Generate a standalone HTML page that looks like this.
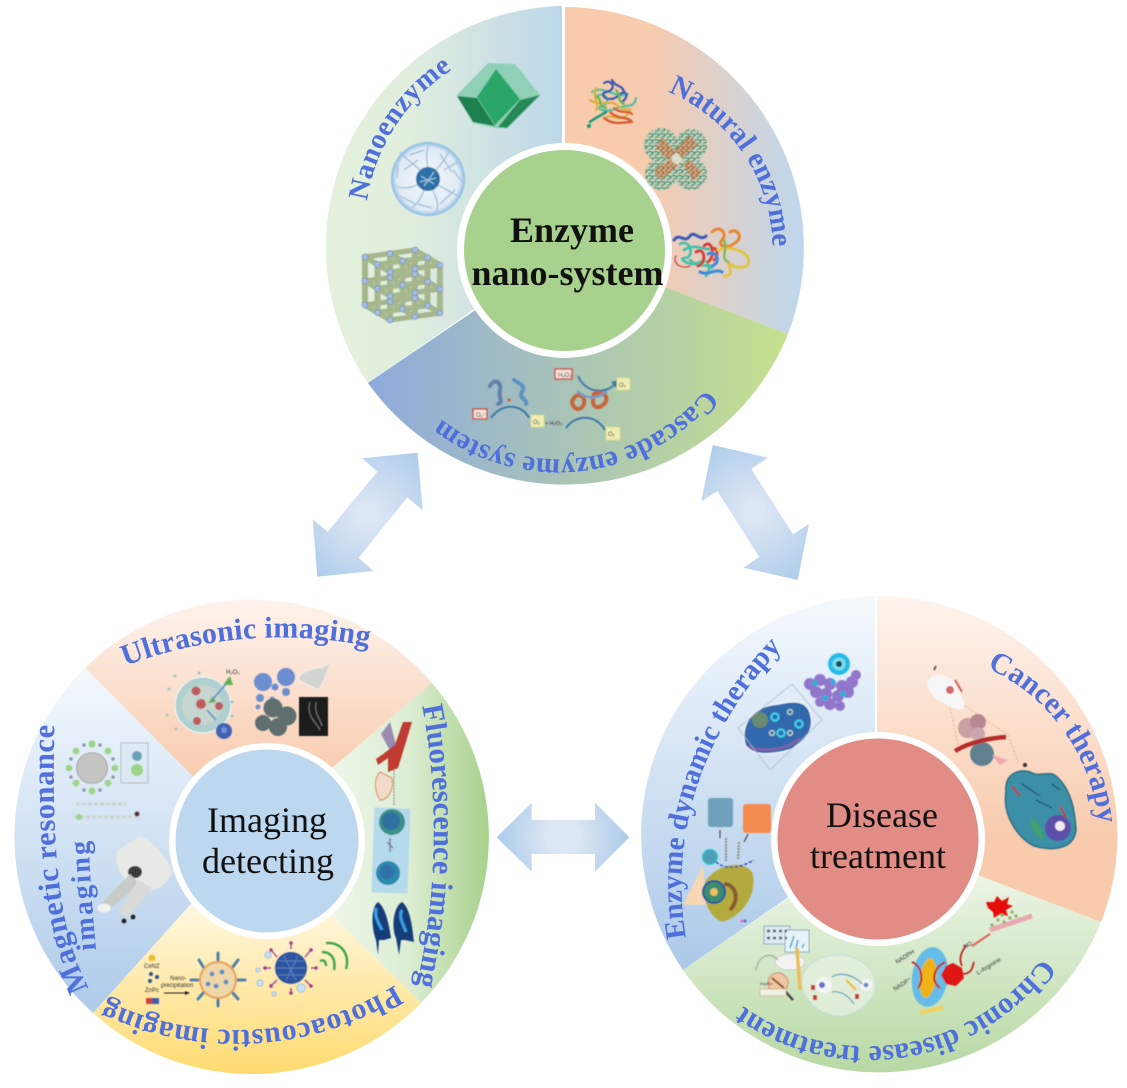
<!DOCTYPE html>
<html><head><meta charset="utf-8"><title>Enzyme nano-system</title>
<style>
html,body{margin:0;padding:0;background:#fff;width:1127px;height:1088px;overflow:hidden}
svg{display:block}
.l{font-family:"Liberation Serif",serif;font-weight:bold;fill:#4f70dc}
.c{font-family:"Liberation Serif",serif;fill:#111;font-size:36px;text-anchor:middle}
.t{font-family:"Liberation Sans",sans-serif;fill:#333}
</style></head><body>
<svg width="1127" height="1088" viewBox="0 0 1127 1088" xmlns="http://www.w3.org/2000/svg">
<defs>
<linearGradient id="g1" gradientUnits="userSpaceOnUse" x1="323" y1="0" x2="563" y2="0"><stop offset="0" stop-color="#e4f1dc"/><stop offset=".35" stop-color="#e1eedd"/><stop offset="1" stop-color="#bcd7ea"/></linearGradient>
<linearGradient id="g2" gradientUnits="userSpaceOnUse" x1="565" y1="0" x2="805" y2="0"><stop offset="0" stop-color="#f8cbad"/><stop offset=".35" stop-color="#f7cbae"/><stop offset="1" stop-color="#bdd7ee"/></linearGradient>
<linearGradient id="g3" gradientUnits="userSpaceOnUse" x1="368" y1="0" x2="788" y2="0"><stop offset="0" stop-color="#8eaadc"/><stop offset="1" stop-color="#c6e08e"/></linearGradient>
<linearGradient id="l1" gradientUnits="userSpaceOnUse" x1="0" y1="600" x2="0" y2="790"><stop offset="0" stop-color="#fef3ed"/><stop offset="1" stop-color="#f8c9aa"/></linearGradient>
<linearGradient id="l2" gradientUnits="userSpaceOnUse" x1="330" y1="0" x2="490" y2="0"><stop offset="0" stop-color="#eef6ea"/><stop offset=".5" stop-color="#dcedd2"/><stop offset="1" stop-color="#a5d08a"/></linearGradient>
<linearGradient id="l3" gradientUnits="userSpaceOnUse" x1="0" y1="910" x2="0" y2="1074"><stop offset="0" stop-color="#fff6dd"/><stop offset="1" stop-color="#ffdb70"/></linearGradient>
<linearGradient id="l4" gradientUnits="userSpaceOnUse" x1="0" y1="670" x2="0" y2="1013"><stop offset="0" stop-color="#f4f8fd"/><stop offset="1" stop-color="#aecbe9"/></linearGradient>
<linearGradient id="r1" gradientUnits="userSpaceOnUse" x1="0" y1="596" x2="0" y2="970"><stop offset="0" stop-color="#f5f9fd"/><stop offset="1" stop-color="#abc9e8"/></linearGradient>
<linearGradient id="r2" gradientUnits="userSpaceOnUse" x1="0" y1="596" x2="0" y2="921"><stop offset="0" stop-color="#fef4ee"/><stop offset=".75" stop-color="#f8cbad"/></linearGradient>
<linearGradient id="r3" gradientUnits="userSpaceOnUse" x1="0" y1="860" x2="0" y2="1075"><stop offset="0" stop-color="#f0f7eb"/><stop offset="1" stop-color="#b6d8a2"/></linearGradient>
<radialGradient id="a1" gradientUnits="userSpaceOnUse" cx="367" cy="515" r="88"><stop offset=".1" stop-color="#dde6f4"/><stop offset="1" stop-color="#a8cae9"/></radialGradient>
<radialGradient id="a2" gradientUnits="userSpaceOnUse" cx="755" cy="512" r="88"><stop offset=".1" stop-color="#dde6f4"/><stop offset="1" stop-color="#a8cae9"/></radialGradient>
<radialGradient id="a3" gradientUnits="userSpaceOnUse" cx="563" cy="837" r="68"><stop offset=".25" stop-color="#dde6f4"/><stop offset="1" stop-color="#a8cae9"/></radialGradient>
<radialGradient id="nano" cx=".5" cy=".5" r=".5"><stop offset="0" stop-color="#f4f8fb"/><stop offset=".85" stop-color="#dfeaf4"/><stop offset="1" stop-color="#86b8e4"/></radialGradient>
<pattern id="pg" width="6" height="6" patternUnits="userSpaceOnUse"><rect width="6" height="6" fill="#c4d2bc"/><path d="M0,2 C2,0 4,4 6,2M1,6 C2,4 4,6 5,3" stroke="#2e8a68" stroke-width="1.2" fill="none"/></pattern>
<pattern id="pb" width="5" height="5" patternUnits="userSpaceOnUse"><rect width="5" height="5" fill="#d0ac88"/><path d="M0,1 C2,0 3,4 5,2M1,5 C2,3 3,5 4,3" stroke="#a0622e" stroke-width="1.2" fill="none"/></pattern>
<filter id="soft" x="-5%" y="-5%" width="110%" height="110%"><feGaussianBlur stdDeviation=".55"/></filter>
<path id="p1" d="M367,201 A190,190 0 0 1 465,62"/>
<path id="p2" d="M668,92 A170,170 0 0 1 772,262"/>
<path id="p3" d="M706,389 A191,191 0 0 1 425,405"/>
<path id="p4" d="M125,666 A439,439 0 0 1 385,650"/>
<path id="p5" d="M422,706 C435,770 443,880 414,996"/>
<path id="p6" d="M395,985 A302,302 0 0 1 105,1000"/>
<path id="p7" d="M89,988 C60,933 50,860 55,700"/>
<path id="p8" d="M96,950 C93,915 90,880 88,825"/>
<path id="p9" d="M686,938 C668,830 705,720 795,635"/>
<path id="p10" d="M987,668 A190,190 0 0 1 1099,835"/>
<path id="p11" d="M1042,958 A215,215 0 0 1 735,1000"/>
<g id="layer">
<path d="M365,257L390,272M390,253.5L415,268.5M415,250L440,265M365,257L415,250M377.5,264.5L427.5,257.5M390,272L440,265" stroke="#a7b78d" stroke-width="5.4" fill="none"/>
</g>
<g id="nodes" fill="#a4bde3" stroke="#6c85b5" stroke-width=".6">
<circle cx="365" cy="257" r="2.9"/><circle cx="390" cy="253.5" r="2.9"/><circle cx="415" cy="250" r="2.9"/><circle cx="377.5" cy="264.5" r="2.9"/><circle cx="402.5" cy="261" r="2.9"/><circle cx="427.5" cy="257.5" r="2.9"/><circle cx="390" cy="272" r="2.9"/><circle cx="415" cy="268.5" r="2.9"/><circle cx="440" cy="265" r="2.9"/>
</g>
</defs>

<!-- arrows -->
<path d="M417.7,452.7 L362.3,458.3 L377.3,471.7 L327.7,531.7 L312.7,519.3 L317.3,576.7 L373.3,571 L358.7,557.7 L407.3,497.3 L422.7,510.3Z" fill="url(#a1)"/>
<path d="M712.7,445 L767.7,457.7 L751.3,469 L793,534.3 L809,524 L797.7,580 L743.3,567.7 L759.3,557 L717.3,491 L701.3,501.3Z" fill="url(#a2)"/>
<path d="M496.7,837.3 L531.7,802.7 L531.7,820 L595,820 L595,802.7 L629.3,837.3 L595,871.7 L595,854 L531.7,854 L531.7,871.7Z" fill="url(#a3)"/>

<!-- top wheel -->
<path d="M562,248 L368,383 A241,241 0 0 1 562,6Z" fill="url(#g1)"/>
<path d="M565,249 L565,7 A241,241 0 0 1 788,334Z" fill="url(#g2)"/>
<path d="M565,249 L788,334 A241,241 0 0 1 368,383Z" fill="url(#g3)"/>

<!-- left wheel -->
<path d="M252,836 L85,668 A237,237 0 0 1 432,683Z" fill="url(#l1)"/>
<path d="M252,836 L432,683 A237,237 0 0 1 421,1003Z" fill="url(#l2)"/>
<path d="M252,836 L421,1003 A237,237 0 0 1 93,1013Z" fill="url(#l3)"/>
<path d="M252,836 L93,1013 A237,237 0 0 1 85,668Z" fill="url(#l4)"/>

<!-- right wheel -->
<path d="M875,837 L683,970 A239,239 0 0 1 875,596Z" fill="url(#r1)"/>
<path d="M877,837 L877,596 A239,239 0 0 1 1101,922Z" fill="url(#r2)"/>
<path d="M877,837 L1101,922 A239,239 0 0 1 683,970Z" fill="url(#r3)"/>

<!-- hubs -->
<circle cx="564.5" cy="250.5" r="107.5" fill="#fff"/><circle cx="564.5" cy="250.5" r="100.5" fill="#a9d18e"/>
<circle cx="267" cy="841" r="98" fill="#fff"/><circle cx="267" cy="841" r="91.5" fill="#bdd7ee"/>
<circle cx="878" cy="839" r="107" fill="#fff"/><circle cx="878" cy="839" r="100.5" fill="#e28c86"/>

<g filter="url(#soft)">
<!-- crystal -->
<path d="M488,63 L515,64 L540,95 L507,128 L495,128 L473,123 L457,95Z" fill="#8fd0b6"/>
<path d="M457,96 L477,98 L495,126 L473,122Z" fill="#1f8050"/>
<path d="M540,95 L520,100 L498,127 L507,128Z" fill="#268a58"/>
<path d="M496,69 L520,99 L495,125 L477,97Z" fill="#2aa768"/>
<!-- mesoporous sphere -->
<circle cx="428" cy="179" r="37" fill="url(#nano)"/>
<g fill="none" stroke="#a9c4dc" stroke-width="1.5">
<path d="M428,180 C418,165 408,162 400,152M428,180 C440,165 445,160 450,150M428,180 C412,188 405,190 396,186M428,180 C445,188 450,192 458,196M428,180 C422,195 420,202 412,208M428,180 C436,196 440,205 436,212M428,180 C428,162 425,155 428,146M404,170 L418,160M440,154 L452,172M400,196 L415,204M440,204 L455,190M410,155 L424,150M398,165 L397,178M453,170 L462,182M444,170 L458,162M418,204 L432,208"/>
</g>
<circle cx="428" cy="179" r="12" fill="#2f6fa8"/><path d="M421,176 L434,184M424,186 L434,172M420,182 L436,178" stroke="#9cc3df" stroke-width="1.2"/>
<!-- lattice -->
<use href="#layer" y="48"/>
<path d="M365,257V305M377.5,264.5V312.5M390,272V320M390,253.5V301.5M402.5,261V309M415,268.5V316.5M415,250V298M427.5,257.5V305.5M440,265V313" stroke="#a7b78d" stroke-width="6" fill="none"/>
<use href="#layer" y="24"/><use href="#layer"/>
<use href="#nodes" y="48"/><use href="#nodes" y="24"/><use href="#nodes"/>
<!-- protein 1 -->
<g fill="none" stroke-width="2.2" stroke-linecap="round">
<path d="M597,96 C606,90 612,104 602,106 C594,108 604,114 618,108 C630,104 634,108 636,98 M592,92 C604,84 616,100 628,94" stroke="#4fc0a8"/>
<path d="M590,100 C600,108 610,98 618,106 C626,114 634,104 628,114 C620,124 610,112 606,118 M596,88 C592,96 600,106 596,110" stroke="#d9b03c"/>
<path d="M604,83 C612,78 618,90 606,92 C598,94 608,104 618,96 C626,88 630,96 622,102 M612,80 C616,88 622,84 624,92" stroke="#3c55b5"/>
<path d="M610,112 C618,120 628,116 632,122 M604,118 C614,126 624,122 630,122 M614,108 C620,114 628,110 632,114" stroke="#d4572f"/>
<path d="M606,112 C600,116 595,118 590,122" stroke="#1c9a7a" stroke-width="2.6" stroke-dasharray="2 1"/>
<path d="M596,96 C604,100 596,106 606,108 M616,90 C622,96 616,100 624,104" stroke="#66b84a"/>
</g>
<circle cx="589" cy="126" r="2" fill="#1a9a6a"/>
<!-- protein 2 -->
<circle cx="661" cy="145" r="17" fill="url(#pg)"/><circle cx="691" cy="145" r="16" fill="url(#pg)"/><circle cx="661" cy="174" r="16" fill="url(#pg)"/><circle cx="691" cy="174" r="16" fill="url(#pg)"/>
<path d="M662,137 L676,152 L668,160 L656,148Z M690,135 L698,144 L682,158 L675,150Z M654,170 L672,158 L678,166 L660,180Z M683,165 L690,160 L702,172 L694,181Z" fill="url(#pb)"/>
<circle cx="676" cy="159" r="5" fill="#d8e4d0" fill-opacity=".8"/>
<!-- protein 3 -->
<g fill="none" stroke-width="2.6" stroke-linecap="round">
<path d="M674,240 C680,232 684,244 690,236 C694,230 700,242 706,236" stroke="#3c5ab8" stroke-width="3"/>
<path d="M680,244 C690,238 696,258 684,258 C678,258 690,268 700,262 C708,256 712,270 706,276 M684,250 C696,242 704,252 712,248 M690,260 C700,270 706,262 712,268" stroke="#3fc0a8"/>
<path d="M712,232 C720,224 728,234 722,240 C716,246 728,250 736,242 C744,236 736,228 730,232" stroke="#e8842f" stroke-width="3"/>
<path d="M704,246 C712,238 716,256 708,262 M696,252 C704,246 708,262 698,266 M712,250 C716,244 720,256 714,260" stroke="#d63c32" stroke-width="2.8"/>
<path d="M718,250 C730,246 744,250 748,258 C752,268 738,270 730,264 C724,258 738,276 724,276" stroke="#e2c53e" stroke-width="2.8"/>
<path d="M708,254 C716,250 722,262 712,266 M700,272 C708,276 716,268 722,272" stroke="#3a8ad8" stroke-width="3"/>
<path d="M724,240 C728,250 720,258 728,262" stroke="#8ab858"/>
<path d="M676,256 C672,262 680,270 690,266" stroke="#c85050" stroke-width="1.4"/>
</g>
<!-- cascade diagram -->
<rect x="555" y="369" width="17" height="10" fill="#f4e2d8" stroke="#d0504c" stroke-width="1.4"/><text class="t" x="558" y="377" font-size="6">H₂O₂</text>
<path d="M578,376 C586,394 606,394 615,384" fill="none" stroke="#3f78a8" stroke-width="2"/><path d="M619,380 L611,382 L616,388Z" fill="#3f78a8"/>
<rect x="617" y="378" width="13" height="12" fill="#f0edb0" stroke="#d8dc90"/><text class="t" x="619" y="387" font-size="6">O₂</text>
<rect x="473" y="409" width="14" height="10" fill="#f4e2d8" stroke="#d0504c" stroke-width="1.4"/><text class="t" x="476" y="417" font-size="6">O₂⁻</text>
<path d="M491,418 C502,402 522,404 529,418" fill="none" stroke="#3f78a8" stroke-width="2"/>
<rect x="531" y="415" width="13" height="12" fill="#f0edb0" stroke="#d8dc90"/><text class="t" x="533" y="424" font-size="6">O₂</text>
<text class="t" x="545" y="425" font-size="5.5">+ H₂O₂</text>
<path d="M566,428 C576,414 596,414 605,430" fill="none" stroke="#3f78a8" stroke-width="2"/>
<rect x="606" y="427" width="14" height="13" fill="#f0edb0" stroke="#d8dc90"/><text class="t" x="608" y="436" font-size="6">O₂</text>
<g fill="none" stroke-width="4" stroke-linecap="round">
<path d="M490,386 C494,378 502,382 500,390 C498,398 504,402 498,404" stroke="#5f82aa"/>
<path d="M514,380 C520,384 526,386 522,392 C518,398 528,400 526,404" stroke="#5f92c4"/>
<path d="M572,402 C576,390 586,396 584,404 C582,410 574,412 572,402M594,394 C604,390 610,398 604,404 C598,410 590,408 594,394" stroke="#c8643a"/>
<path d="M578,392 C586,398 596,400 606,392" stroke="#6f9cc8" stroke-width="2.5"/>
</g>
<circle cx="509" cy="400" r="1.6" fill="#d05a3c"/>

<!-- ultrasonic -->
<circle cx="203" cy="705" r="28" fill="#afd0cf" stroke="#eef5f3" stroke-width="1.2"/><circle cx="202" cy="705" r="20" fill="#c6d5d0"/>
<g fill="#bf5a5a"><circle cx="196" cy="691" r="4.5"/><circle cx="201" cy="704" r="5"/><circle cx="219" cy="706" r="4"/><circle cx="197" cy="721" r="4"/></g>
<path d="M230,676 L223,685 L233,685Z M208,703 L213,696 L216,702Z" fill="#5fb14f"/><path d="M213,699 L226,684" stroke="#6fa0c8" stroke-width="2"/><path d="M207,710 L216,720" stroke="#5a84c8" stroke-width="1.5"/>
<circle cx="224" cy="731" r="8" fill="#3f63b8"/><circle cx="224" cy="730" r="3" fill="#7890d0"/>
<g fill="#8fc5b8"><circle cx="175" cy="676" r="1.4"/><circle cx="199" cy="673" r="1.4"/><circle cx="169" cy="689" r="1.4"/><circle cx="167" cy="715" r="1.4"/><circle cx="176" cy="729" r="1.4"/><circle cx="232" cy="702" r="1.4"/><circle cx="232" cy="716" r="1.4"/></g>
<text class="t" x="226" y="674" font-size="6">H₂O₂</text>
<g fill="#6c8ed0"><circle cx="263" cy="682" r="9"/><circle cx="286" cy="677" r="9"/><circle cx="275" cy="687" r="3.5"/><circle cx="286" cy="692" r="4"/><circle cx="260" cy="698" r="4"/><circle cx="258" cy="707" r="2.4"/><circle cx="272" cy="699" r="2.5"/></g>
<g fill="#5f6e6e"><circle cx="273" cy="708" r="9.5"/><circle cx="263" cy="723" r="8"/><circle cx="278" cy="727" r="9"/><circle cx="287" cy="716" r="9.5"/></g>
<path d="M330,662 C328,672 322,686 318,690 L299,680 C298,672 312,668 322,668Z" fill="#d2d4d0" stroke="#eee"/>
<rect x="299" y="697" width="29" height="39" fill="#1a1a1a"/><path d="M310,702 C306,716 316,722 320,730 M316,702 C314,714 320,718 322,726" stroke="#777" fill="none"/>

<!-- fluorescence -->
<path d="M403,722 L412,722 L398,768 L388,772 L388,758 L378,765 L376,759 C386,752 392,748 396,742Z" fill="#c03a30"/>
<path d="M390,722 L396,745 L389,749 L381,734Z" fill="#8a72a8" opacity=".8"/>
<path d="M380,772 C374,778 374,790 380,800 C388,800 394,790 392,778Z" fill="#f0dcc8" stroke="#d68a60"/>
<path d="M394,770 L394,805" stroke="#888" stroke-width="1" stroke-dasharray="2 1"/>
<rect x="373" y="808" width="36" height="85" fill="#b5daec" transform="rotate(2 390 850)"/>
<circle cx="392" cy="822" r="13" fill="#3a9088"/><circle cx="391" cy="821" r="9" fill="#2f6fa0"/>
<circle cx="388" cy="873" r="12" fill="#2a8ab0"/><circle cx="387" cy="872" r="7" fill="#3070a8"/>
<path d="M387,842 L393,848 M390,838 L390,852" stroke="#778" stroke-width="1.4"/>
<path d="M378,902 C370,908 372,930 376,940 L378,955 L379,940 L384,940 L391,938 C389,925 386,908 378,902Z" fill="#143c78"/>
<path d="M402,902 C392,908 392,930 396,938 L399,955 L401,940 L405,940 L414,942 C412,925 410,908 402,902Z" fill="#143c78"/>
<path d="M376,908 C374,918 380,925 382,930 M402,910 C398,918 404,925 406,932" stroke="#3aa0e8" stroke-width="3" fill="none"/>

<!-- photoacoustic -->
<circle cx="152" cy="958" r="3.4" fill="#e8bf30"/>
<text class="t" x="144" y="968" font-size="6">CeNZ</text>
<g fill="#2f5590"><circle cx="151" cy="974" r="2"/><circle cx="157" cy="977" r="2"/><circle cx="150" cy="981" r="2"/></g>
<text class="t" x="145" y="992" font-size="6">ZnPc</text>
<rect x="146" y="998" width="13" height="6" fill="#d04040"/><rect x="152" y="998" width="7" height="6" fill="#3a60b0"/>
<text class="t" x="170" y="980" font-size="6">Nano-</text><text class="t" x="161" y="987" font-size="6">precipitation</text>
<path d="M164,993 L186,993" stroke="#222"/><path d="M190,993 L185,991 L185,995Z" fill="#222"/>
<g stroke="#5080b0" stroke-width="3" stroke-linecap="round"><path d="M218,962 L218,953M204,968 L199,960M232,968 L238,960M198,980 L191,980M238,980 L245,980M204,992 L198,999M232,992 L238,999M218,998 L218,1006"/></g>
<circle cx="218" cy="980" r="18" fill="#efd7a8" stroke="#e8a05a" stroke-width="2"/>
<g fill="#5f8fc8"><circle cx="212" cy="974" r="2.4"/><circle cx="222" cy="972" r="2.4"/><circle cx="226" cy="982" r="2.4"/><circle cx="216" cy="986" r="2.4"/><circle cx="208" cy="984" r="2.4"/></g>
<circle cx="291" cy="968" r="16" fill="#2f559f"/>
<path d="M278,961 L304,961M276,968 L306,968M278,975 L304,975M284,956 L296,980M298,956 L286,980" stroke="#6a8ccc" stroke-width=".7"/>
<g stroke="#a03c90" stroke-width="1.3"><path d="M291,949 L291,944M305,957 L310,951M311,968 L315,968M305,980 L310,985M291,988 L291,992M277,980 L272,985M271,968 L266,968M277,957 L272,951"/></g>
<g fill="#a03c90"><circle cx="291" cy="943" r="1.8"/><circle cx="311" cy="950" r="1.8"/><circle cx="316" cy="968" r="1.8"/><circle cx="311" cy="986" r="1.8"/><circle cx="291" cy="993" r="1.8"/><circle cx="271" cy="986" r="1.8"/><circle cx="265" cy="968" r="1.8"/><circle cx="271" cy="950" r="1.8"/></g>
<g fill="#cfe3f5" stroke="#8fc0e8"><circle cx="268" cy="955" r="3"/><circle cx="258" cy="970" r="2"/><circle cx="260" cy="983" r="3"/><circle cx="274" cy="994" r="2"/><circle cx="301" cy="988" r="4"/></g>
<g fill="none" stroke="#3aa848" stroke-width="2.4"><path d="M320,961 C324,959 326,962 326,966"/><path d="M322,952 C332,952 336,960 334,970"/><path d="M326,943 C342,942 350,955 346,969"/></g>

<!-- MRI -->
<g fill="#9ad588"><circle cx="92" cy="744" r="3.6"/><circle cx="76" cy="751" r="3.4"/><circle cx="69" cy="768" r="3.4"/><circle cx="76" cy="783" r="3.4"/><circle cx="92" cy="791" r="3.4"/><circle cx="108" cy="751" r="3.4"/><circle cx="115" cy="768" r="3.4"/><circle cx="108" cy="783" r="3.4"/></g>
<g fill="#8a98a8"><circle cx="84" cy="745" r="1.8"/><circle cx="100" cy="745" r="1.8"/><circle cx="71" cy="759" r="1.8"/><circle cx="113" cy="759" r="1.8"/><circle cx="71" cy="777" r="1.8"/><circle cx="113" cy="777" r="1.8"/><circle cx="84" cy="790" r="1.8"/><circle cx="100" cy="790" r="1.8"/></g>
<circle cx="92" cy="768" r="15.5" fill="#c4c4c2" stroke="#888" stroke-width=".6"/>
<rect x="121" y="743" width="27" height="40" fill="#d8e8f0" fill-opacity=".6" stroke="#b0bcc4"/>
<circle cx="137" cy="756" r="5" fill="#6aa0b8"/><circle cx="137" cy="770" r="6" fill="#9ad588"/>
<path d="M76,804 L126,804M74,817 L138,817" stroke="#cfd4d0" stroke-width="3" stroke-dasharray="4 2"/>
<circle cx="79" cy="817" r="3" fill="#9ad588"/><circle cx="137" cy="814" r="2.4" fill="#553040"/>
<path d="M64,823 L148,823" stroke="#dfe8f2"/>
<path d="M140,836 C150,838 170,860 172,872 C166,888 150,895 136,890 C122,880 112,862 118,850Z" fill="#e8e9e6"/>
<ellipse cx="135" cy="872" rx="7" ry="6" fill="#3a3a3a"/>
<path d="M130,874 L100,905 L106,912 L140,884Z" fill="#c8ccc8"/>
<path d="M138,880 L118,912 L128,918 L152,888Z" fill="#d8dad8"/>
<ellipse cx="104" cy="908" rx="7" ry="4.5" fill="#f2f2ef"/>
<circle cx="124" cy="921" r="2.4" fill="#222"/><circle cx="133" cy="917" r="2.4" fill="#222"/>

<!-- enzyme dynamic -->
<path d="M745,745 C740,724 752,706 778,704 C795,700 808,700 811,716 C815,734 800,745 790,750 C768,756 752,755 745,745Z" fill="#3069ad" stroke="#f0f0f8" stroke-width="1.5"/>
<path d="M748,746 C760,752 784,752 800,738" stroke="#8660a8" stroke-width="2.4" fill="none"/>
<circle cx="760" cy="720" r="8" fill="#6a8a70"/>
<g fill="none" stroke="#3ed0e8" stroke-width="2.2"><circle cx="775" cy="717" r="3.6"/><circle cx="781" cy="733" r="3.6"/><circle cx="799" cy="724" r="3.6"/></g>
<g fill="none" stroke="#c0d8c0" stroke-width="1.4"><circle cx="772" cy="733" r="2.4"/><circle cx="790" cy="733" r="2.4"/><circle cx="790" cy="712" r="2.4"/></g>
<path d="M738,728 L792,684 L822,720 L770,770Z" fill="none" stroke="#a8b6c4" stroke-width=".7"/>
<g fill="#9177cc"><circle cx="810" cy="684" r="6"/><circle cx="820" cy="680" r="6"/><circle cx="830" cy="684" r="6"/><circle cx="842" cy="686" r="6"/><circle cx="852" cy="682" r="6"/><circle cx="856" cy="675" r="5"/><circle cx="848" cy="692" r="6"/><circle cx="838" cy="696" r="6"/><circle cx="826" cy="694" r="6"/><circle cx="816" cy="692" r="6"/><circle cx="830" cy="704" r="6"/><circle cx="820" cy="702" r="5"/><circle cx="840" cy="706" r="5"/></g>
<g fill="#2eaed8"><circle cx="815" cy="683" r="3"/><circle cx="833" cy="682" r="2.6"/><circle cx="843" cy="694" r="3"/><circle cx="825" cy="698" r="3"/></g>
<circle cx="839" cy="664" r="11" fill="#28bcea"/><circle cx="839" cy="664" r="6.5" fill="#7fdce8"/><circle cx="839" cy="664" r="3" fill="#154a60"/>
<rect x="708" y="798" width="25" height="29" rx="3" fill="#6fa0bc"/><rect x="743" y="804" width="28" height="29" rx="3" fill="#f58c50"/>
<path d="M720,830 L720,838M748,834 L744,842" stroke="#333"/>
<path d="M683,905 L703,865 L706,905Z" fill="#f6d6b4"/>
<path d="M705,882 C715,866 740,858 752,872 C758,890 746,915 722,922 C708,916 702,898 705,882Z" fill="#b3aa3c"/>
<circle cx="714" cy="892" r="11" fill="#3b8c70" stroke="#2858a8" stroke-width="2"/><circle cx="714" cy="892" r="4" fill="#e8c060"/>
<path d="M724,884 C736,884 740,900 730,910" stroke="#8a5a30" stroke-width="4" fill="none"/>
<circle cx="710" cy="857" r="8" fill="#4ca0b8" stroke="#5fe0e8"/>
<path d="M716,862 C728,872 744,866 754,860" stroke="#2a40c0" stroke-width="1.4" stroke-dasharray="3 2" fill="none"/>
<path d="M726,838 L726,862M739,842 L738,860" stroke="#8b8b8b" stroke-width="2" stroke-dasharray="2 1"/>
<circle cx="742" cy="921" r="1.5" fill="#e070b0"/><circle cx="745" cy="921" r="1.5" fill="#5070c8"/>

<!-- cancer -->
<path d="M927,682 C932,672 948,672 955,684 C958,692 966,700 964,708 C958,712 948,706 942,702 C936,700 928,692 927,682Z" fill="#f6f6f6"/>
<circle cx="950" cy="690" r="4" fill="#c84848" opacity=".8"/><path d="M955,680 L962,692" stroke="#c83838" stroke-width="1.4"/><path d="M934,670 L936,666" stroke="#333" stroke-width="1.4"/>
<path d="M950,708 L958,745 M965,706 L1008,735 L1018,762" stroke="#e5b090" stroke-dasharray="2 2" fill="none"/>
<circle cx="968" cy="728" r="10" fill="#c8a0a4"/><circle cx="978" cy="722" r="8" fill="#b88890"/><circle cx="978" cy="734" r="7" fill="#c8a8ac"/>
<circle cx="982" cy="754" r="12" fill="#60808f"/>
<path d="M955,751 C970,742 990,738 1006,737" stroke="#b82a2a" stroke-width="4.5" fill="none"/>
<path d="M992,755 L1008,760 L1000,765Z" fill="#f0a8b0"/>
<path d="M1006,792 C1004,775 1018,768 1030,772 C1040,778 1048,770 1056,776 C1072,790 1075,812 1076,830 C1074,848 1055,852 1034,846 C1018,838 1002,815 1006,792Z" fill="#3b8fa7" stroke="#2a6a80" stroke-width="1.4"/>
<circle cx="1058" cy="828" r="13" fill="#5c50a8"/><circle cx="1060" cy="826" r="5" fill="#f4ecec"/>
<path d="M1030,818 C1038,820 1044,830 1044,840 C1036,838 1030,828 1030,818Z" fill="#3fa070"/>
<path d="M1012,786 L1020,796 M1060,806 L1066,818" stroke="#c83838" stroke-width="2"/>
<path d="M1022,784 L1040,796 M1036,800 L1052,808 M1052,784 L1060,790" stroke="#14303c" stroke-width="1.4" stroke-dasharray="2 1"/>
<circle cx="1025" cy="765" r="2" fill="#333"/>

<!-- chronic left -->
<g fill="#dfe8f0" stroke="#7a9cb8" stroke-width=".8">
<rect x="764" y="926" width="26" height="18"/>
<rect x="785" y="930" width="24" height="22" fill="#e6f3f8"/>
</g>
<path d="M790,948 L794,936 M796,948 L798,940 M802,948 L804,944" stroke="#55a8d0" stroke-width="1.6"/>
<path d="M767,931 L787,931M767,938 L787,938" stroke="#4a5a6a" stroke-width="2.4" stroke-dasharray="3 3"/>
<ellipse cx="790" cy="962" rx="15" ry="8" fill="#f2f2f2" stroke="#b8b8b8" stroke-width=".6"/>
<path d="M778,960 C768,950 758,958 756,970" stroke="#999" fill="none"/>
<circle cx="778" cy="983" r="10" fill="#f0c8a0" stroke="#d08080"/>
<path d="M772,978 L784,988" stroke="#885030" stroke-width="2"/>
<path d="M784,990 L793,1000" stroke="#444" stroke-width="2.4"/>
<text class="t" x="760" y="985" font-size="4">Kupffer</text>
<rect x="760" y="989" width="26" height="7" fill="#f0f0e8" stroke="#c8a868" stroke-width=".6"/>
<path d="M797,948 L800,990" stroke="#e8c050" stroke-width="3.5"/>
<path d="M802,978 C804,966 820,954 842,955 C864,958 878,972 875,990 C870,1006 852,1018 834,1016 C818,1012 800,1000 802,978Z" fill="#e8f2e4" fill-opacity=".7" stroke="#c6dad8"/>
<circle cx="824" cy="985" r="8" fill="#f4f4f4"/><circle cx="822" cy="985" r="3" fill="#6a70c8"/>
<circle cx="866" cy="985" r="6" fill="#f4f4f4"/><circle cx="866" cy="985" r="2.4" fill="#6a90c8"/>
<path d="M832,977 C842,970 858,978 862,984M832,992 C842,990 850,998 854,1004" stroke="#5a9cc0" stroke-width="1.2" fill="none"/>
<path d="M846,980 L856,990" stroke="#e8c050" stroke-width="2.4"/>
<rect x="811" y="985" width="4" height="5" fill="#c83838"/><rect x="813" y="995" width="4" height="5" fill="#c83838"/><rect x="855" y="994" width="4" height="5" fill="#c83838"/>
<!-- chronic right -->
<ellipse cx="930" cy="977" rx="18" ry="30" fill="#66bce8" transform="rotate(8 930 977)"/>
<ellipse cx="928" cy="978" rx="8" ry="20" fill="#efb218" transform="rotate(8 928 978)"/>
<path d="M912,962 C922,966 924,980 918,988M945,962 C934,968 930,980 940,988" stroke="#c82020" stroke-width="2" fill="none"/>
<path d="M953,963 L962,968 L964,978 L956,986 L946,984 L941,975 L946,966Z" fill="#e01818"/>
<path d="M962,974 C972,974 972,968 974,962M962,966 C958,958 962,952 966,945" stroke="#c82020" stroke-width="1.8" fill="none"/>
<text class="t" x="897" y="964" font-size="6" transform="rotate(-32 897 964)">NADPH</text>
<text class="t" x="895" y="991" font-size="6" transform="rotate(-32 895 991)">NADP⁺</text>
<text class="t" x="965" y="949" font-size="6" transform="rotate(-32 965 949)">NO</text>
<text class="t" x="978" y="975" font-size="6" transform="rotate(-32 978 975)">L-Arginine</text>
<path d="M972,946 L990,934" stroke="#e06060" stroke-width="2"/>
<path d="M988,908 L986,902 L994,902 L997,896 L1002,901 L1009,897 L1007,904 L1013,906 L1006,910 L1008,916 L1000,914 L994,918 L993,912Z" fill="#e81010"/>
<path d="M990,930 L1032,916" stroke="#e8a8b0" stroke-width="5"/>
<g fill="#8ab060"><circle cx="992" cy="925" r="1.6"/><circle cx="998" cy="920" r="1.6"/><circle cx="1004" cy="922" r="1.6"/><circle cx="1010" cy="918" r="1.6"/><circle cx="1016" cy="916" r="1.6"/><circle cx="1002" cy="915" r="1.6"/><circle cx="1012" cy="912" r="1.6"/></g>
<rect x="920" y="1008" width="24" height="4" fill="#f0d060" transform="rotate(-12 932 1010)"/>
</g>

<!-- curved labels -->
<text class="l" font-size="28.5" letter-spacing=".5"><textPath href="#p1">Nanoenzyme</textPath></text>
<text class="l" font-size="29"><textPath href="#p2">Natural enzyme</textPath></text>
<text class="l" font-size="29"><textPath href="#p3">Cascade enzyme system</textPath></text>
<text class="l" font-size="30" letter-spacing=".2"><textPath href="#p4">Ultrasonic imaging</textPath></text>
<text class="l" font-size="30.5"><textPath href="#p5">Fluorescence imaging</textPath></text>
<text class="l" font-size="30" letter-spacing=".6"><textPath href="#p6">Photoacoustic imaging</textPath></text>
<text class="l" font-size="30.5" letter-spacing=".5"><textPath href="#p7">Magnetic resonance</textPath></text>
<text class="l" font-size="28" letter-spacing="2.2"><textPath href="#p8">imaging</textPath></text>
<text class="l" font-size="29"><textPath href="#p9">Enzyme dynamic therapy</textPath></text>
<text class="l" font-size="30"><textPath href="#p10">Cancer therapy</textPath></text>
<text class="l" font-size="30"><textPath href="#p11">Chronic disease treatment</textPath></text>

<!-- hub labels -->
<text class="c" x="572" y="242" font-weight="bold">Enzyme</text>
<text class="c" x="567.5" y="285" font-weight="bold">nano-system</text>
<text class="c" x="267" y="832">Imaging</text>
<text class="c" x="268" y="873">detecting</text>
<text class="c" x="882" y="827">Disease</text>
<text class="c" x="878" y="868">treatment</text>
</svg>
</body></html>
